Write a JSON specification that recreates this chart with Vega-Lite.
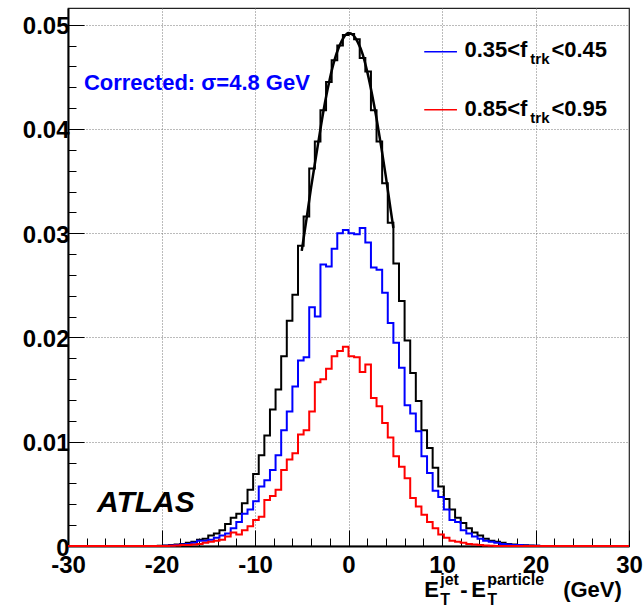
{
  "$schema": "https://vega.github.io/schema/vega-lite/v6.json",
  "width": 561,
  "height": 538,
  "autosize": "none",
  "padding": {"left": 68, "top": 8, "right": 14, "bottom": 61},
  "background": "white",
  "config": {"view": {"stroke": "#222222", "strokeWidth": 1.2}, "font": "Liberation Sans"},
  "datasets": {
    "hist": [
      {"x": -30, "black": 0, "blue": 0, "red": 0},
      {"x": -29.4, "black": 0, "blue": 0, "red": 0},
      {"x": -28.8, "black": 0, "blue": 0, "red": 0},
      {"x": -28.2, "black": 0, "blue": 0, "red": 0},
      {"x": -27.6, "black": 0, "blue": 0, "red": 0},
      {"x": -27, "black": 0, "blue": 0, "red": 0},
      {"x": -26.4, "black": 0, "blue": 0, "red": 0},
      {"x": -25.8, "black": 0, "blue": 0, "red": 0},
      {"x": -25.2, "black": 0, "blue": 0, "red": 0},
      {"x": -24.6, "black": 0, "blue": 0, "red": 0},
      {"x": -24, "black": 0, "blue": 0, "red": 0},
      {"x": -23.4, "black": 0, "blue": 0, "red": 0},
      {"x": -22.8, "black": 0, "blue": 0, "red": 0},
      {"x": -22.2, "black": 0, "blue": 0, "red": 0},
      {"x": -21.6, "black": 0, "blue": 0, "red": 0},
      {"x": -21, "black": 0, "blue": 0, "red": 0},
      {"x": -20.4, "black": 0.00003, "blue": 0, "red": 0},
      {"x": -19.8, "black": 0.00005, "blue": 0.00002, "red": 0},
      {"x": -19.2, "black": 0.0001, "blue": 0.00005, "red": 0.00003},
      {"x": -18.6, "black": 0.00015, "blue": 0.0001, "red": 0.00005},
      {"x": -18, "black": 0.0002, "blue": 0.00015, "red": 0.0001},
      {"x": -17.4, "black": 0.0003, "blue": 0.0002, "red": 0.0001},
      {"x": -16.8, "black": 0.0004, "blue": 0.0003, "red": 0.00015},
      {"x": -16.2, "black": 0.0006, "blue": 0.0005, "red": 0.0002},
      {"x": -15.6, "black": 0.0007, "blue": 0.0005, "red": 0.0003},
      {"x": -15, "black": 0.001, "blue": 0.0006, "red": 0.0004},
      {"x": -14.4, "black": 0.0012, "blue": 0.0008, "red": 0.0005},
      {"x": -13.8, "black": 0.0015, "blue": 0.001, "red": 0.0006},
      {"x": -13.2, "black": 0.0021, "blue": 0.0012, "red": 0.0009},
      {"x": -12.6, "black": 0.0027, "blue": 0.0017, "red": 0.0013},
      {"x": -12, "black": 0.0031, "blue": 0.0023, "red": 0.0011},
      {"x": -11.4, "black": 0.0041, "blue": 0.0031, "red": 0.0015},
      {"x": -10.8, "black": 0.0054, "blue": 0.0035, "red": 0.0019},
      {"x": -10.2, "black": 0.0069, "blue": 0.0043, "red": 0.0025},
      {"x": -9.6, "black": 0.0087, "blue": 0.0057, "red": 0.0028},
      {"x": -9, "black": 0.0106, "blue": 0.0063, "red": 0.0044},
      {"x": -8.4, "black": 0.0131, "blue": 0.0073, "red": 0.0048},
      {"x": -7.8, "black": 0.015, "blue": 0.0087, "red": 0.0054},
      {"x": -7.2, "black": 0.0182, "blue": 0.0111, "red": 0.0073},
      {"x": -6.6, "black": 0.0216, "blue": 0.0129, "red": 0.0083},
      {"x": -6, "black": 0.0241, "blue": 0.0153, "red": 0.0089},
      {"x": -5.4, "black": 0.0288, "blue": 0.0178, "red": 0.0107},
      {"x": -4.8, "black": 0.0316, "blue": 0.0181, "red": 0.0111},
      {"x": -4.2, "black": 0.0362, "blue": 0.0229, "red": 0.0129},
      {"x": -3.6, "black": 0.0388, "blue": 0.022, "red": 0.0157},
      {"x": -3, "black": 0.0418, "blue": 0.027, "red": 0.016},
      {"x": -2.4, "black": 0.0445, "blue": 0.0268, "red": 0.017},
      {"x": -1.8, "black": 0.0466, "blue": 0.0285, "red": 0.0182},
      {"x": -1.2, "black": 0.048, "blue": 0.03, "red": 0.0187},
      {"x": -0.6, "black": 0.049, "blue": 0.0303, "red": 0.0191},
      {"x": 0, "black": 0.0491, "blue": 0.03, "red": 0.0182},
      {"x": 0.6, "black": 0.0486, "blue": 0.0299, "red": 0.0181},
      {"x": 1.2, "black": 0.0468, "blue": 0.0305, "red": 0.0167},
      {"x": 1.8, "black": 0.0455, "blue": 0.0291, "red": 0.0174},
      {"x": 2.4, "black": 0.0418, "blue": 0.0267, "red": 0.0142},
      {"x": 3, "black": 0.0388, "blue": 0.0265, "red": 0.0134},
      {"x": 3.6, "black": 0.0348, "blue": 0.0243, "red": 0.0118},
      {"x": 4.2, "black": 0.031, "blue": 0.0214, "red": 0.0104},
      {"x": 4.8, "black": 0.0271, "blue": 0.0195, "red": 0.0086},
      {"x": 5.4, "black": 0.0235, "blue": 0.0171, "red": 0.0076},
      {"x": 6, "black": 0.0197, "blue": 0.0135, "red": 0.0065},
      {"x": 6.6, "black": 0.0166, "blue": 0.0127, "red": 0.0046},
      {"x": 7.2, "black": 0.0139, "blue": 0.011, "red": 0.0038},
      {"x": 7.8, "black": 0.0111, "blue": 0.0086, "red": 0.003},
      {"x": 8.4, "black": 0.0094, "blue": 0.007, "red": 0.0023},
      {"x": 9, "black": 0.0075, "blue": 0.0053, "red": 0.0017},
      {"x": 9.6, "black": 0.0057, "blue": 0.0047, "red": 0.0011},
      {"x": 10.2, "black": 0.0045, "blue": 0.0035, "red": 0.0008},
      {"x": 10.8, "black": 0.0035, "blue": 0.0025, "red": 0.0005},
      {"x": 11.4, "black": 0.0027, "blue": 0.0023, "red": 0.0004},
      {"x": 12, "black": 0.0022, "blue": 0.0015, "red": 0.0003},
      {"x": 12.6, "black": 0.0017, "blue": 0.0012, "red": 0.0002},
      {"x": 13.2, "black": 0.0013, "blue": 0.0009, "red": 0.00015},
      {"x": 13.8, "black": 0.001, "blue": 0.0007, "red": 0.0001},
      {"x": 14.4, "black": 0.0007, "blue": 0.0005, "red": 0.00005},
      {"x": 15, "black": 0.0005, "blue": 0.0004, "red": 0.00003},
      {"x": 15.6, "black": 0.0004, "blue": 0.0003, "red": 0},
      {"x": 16.2, "black": 0.0003, "blue": 0.0002, "red": 0},
      {"x": 16.8, "black": 0.0002, "blue": 0.00015, "red": 0},
      {"x": 17.4, "black": 0.00015, "blue": 0.0001, "red": 0},
      {"x": 18, "black": 0.0001, "blue": 0.0001, "red": 0},
      {"x": 18.6, "black": 0.00008, "blue": 0.00005, "red": 0},
      {"x": 19.2, "black": 0.00005, "blue": 0.00003, "red": 0},
      {"x": 19.8, "black": 0.00003, "blue": 0.00002, "red": 0},
      {"x": 20.4, "black": 0, "blue": 0, "red": 0},
      {"x": 21, "black": 0, "blue": 0, "red": 0},
      {"x": 21.6, "black": 0, "blue": 0, "red": 0},
      {"x": 22.2, "black": 0, "blue": 0, "red": 0},
      {"x": 22.8, "black": 0, "blue": 0, "red": 0},
      {"x": 23.4, "black": 0, "blue": 0, "red": 0},
      {"x": 24, "black": 0, "blue": 0, "red": 0},
      {"x": 24.6, "black": 0, "blue": 0, "red": 0},
      {"x": 25.2, "black": 0, "blue": 0, "red": 0},
      {"x": 25.8, "black": 0, "blue": 0, "red": 0},
      {"x": 26.4, "black": 0, "blue": 0, "red": 0},
      {"x": 27, "black": 0, "blue": 0, "red": 0},
      {"x": 27.6, "black": 0, "blue": 0, "red": 0},
      {"x": 28.2, "black": 0, "blue": 0, "red": 0},
      {"x": 28.8, "black": 0, "blue": 0, "red": 0},
      {"x": 29.4, "black": 0, "blue": 0, "red": 0},
      {"x": 30, "black": 0, "blue": 0, "red": 0}
    ],
    "fit": [
      {"x": -5.0, "y": 0.0283},
      {"x": -4.5, "y": 0.0313},
      {"x": -4.0, "y": 0.0344},
      {"x": -3.5, "y": 0.0372},
      {"x": -3.0, "y": 0.04},
      {"x": -2.5, "y": 0.0426},
      {"x": -2.0, "y": 0.0448},
      {"x": -1.5, "y": 0.0466},
      {"x": -1.0, "y": 0.0479},
      {"x": -0.5, "y": 0.0488},
      {"x": 0.0, "y": 0.0492},
      {"x": 0.5, "y": 0.049},
      {"x": 1.0, "y": 0.0483},
      {"x": 1.5, "y": 0.0472},
      {"x": 2.0, "y": 0.0455},
      {"x": 2.5, "y": 0.0434},
      {"x": 3.0, "y": 0.041},
      {"x": 3.5, "y": 0.0383},
      {"x": 4.0, "y": 0.0354},
      {"x": 4.5, "y": 0.0323},
      {"x": 4.8, "y": 0.0305}
    ],
    "legendLines": [
      {"x": 8.1, "x2": 11.6, "y": 0.04741, "series": "blue"},
      {"x": 8.1, "x2": 11.6, "y": 0.04184, "series": "red"}
    ],
    "bigText": [
      {"x": 12.4, "y": 0.0469, "t": "0.35<f"},
      {"x": 21.7, "y": 0.0469, "t": "<0.45"},
      {"x": 12.4, "y": 0.04127, "t": "0.85<f"},
      {"x": 21.7, "y": 0.04127, "t": "<0.95"}
    ],
    "subText": [
      {"x": 19.45, "y": 0.04626, "t": "trk"},
      {"x": 19.45, "y": 0.04057, "t": "trk"}
    ],
    "titleMain": [
      {"x": 8.1, "y": -0.00489, "t": "E"},
      {"x": 11.95, "y": -0.00489, "t": "-"},
      {"x": 13.12, "y": -0.00489, "t": "E"},
      {"x": 22.96, "y": -0.00489, "t": "(GeV)"}
    ],
    "titleSup": [
      {"x": 9.81, "y": -0.00374, "t": "jet"},
      {"x": 14.83, "y": -0.00374, "t": "particle"},
      {"x": 9.81, "y": -0.00566, "t": "T"},
      {"x": 14.83, "y": -0.00566, "t": "T"}
    ],
    "corr": [{"x": -28.3, "y": 0.0437, "t": "Corrected: σ=4.8 GeV"}],
    "atlas": [{"x": -26.9, "y": 0.0033, "t": "ATLAS"}]
  },
  "encoding": {
    "x": {
      "field": "x", "type": "quantitative",
      "scale": {"domain": [-30, 30], "nice": false, "zero": false},
      "axis": {
        "title": null,
        "values": [-30, -28, -26, -24, -22, -20, -18, -16, -14, -12, -10, -8, -6, -4, -2, 0, 2, 4, 6, 8, 10, 12, 14, 16, 18, 20, 22, 24, 26, 28, 30],
        "labelExpr": "datum.value % 10 === 0 ? (datum.value + '') : ''",
        "labelFont": "Liberation Sans", "labelFontWeight": "bold", "labelFontSize": 24, "labelColor": "#000000",
        "labelPadding": 23, "labelFlush": false, "labelOverlap": false, "labelBaseline": "top",
        "tickSize": {"condition": {"test": "datum.value % 10 === 0", "value": -16}, "value": -8},
        "tickColor": "#000000", "tickWidth": 1,
        "grid": true, "gridDash": [1, 2], "gridWidth": 1,
        "gridColor": {"condition": {"test": "datum.value % 10 === 0 && abs(datum.value) < 25", "value": "#777777"}, "value": "rgba(255,255,255,0)"},
        "domainColor": "#000000", "domainWidth": 2
      }
    },
    "y": {
      "field": "y", "type": "quantitative",
      "scale": {"domain": [0, 0.0516], "nice": false, "zero": true},
      "axis": {
        "title": null,
        "values": [0, 0.002, 0.004, 0.006, 0.008, 0.01, 0.012, 0.014, 0.016, 0.018, 0.02, 0.022, 0.024, 0.026, 0.028, 0.03, 0.032, 0.034, 0.036, 0.038, 0.04, 0.042, 0.044, 0.046, 0.048, 0.05],
        "labelExpr": "datum.value < 0.0001 ? '0' : (abs(datum.value * 100 - round(datum.value * 100)) < 0.01 ? format(datum.value, '.2f') : '')",
        "labelFont": "Liberation Sans", "labelFontWeight": "bold", "labelFontSize": 24, "labelColor": "#000000",
        "labelPadding": 15, "labelOffset": 2, "labelOverlap": false, "labelFlush": false,
        "tickSize": {"condition": {"test": "abs(datum.value * 100 - round(datum.value * 100)) < 0.01", "value": -16}, "value": -8},
        "tickColor": "#000000", "tickWidth": 1,
        "grid": true, "gridDash": [1, 2], "gridWidth": 1,
        "gridColor": {"condition": {"test": "datum.value > 0.0001 && abs(datum.value * 100 - round(datum.value * 100)) < 0.01", "value": "#777777"}, "value": "rgba(255,255,255,0)"},
        "domainColor": "#000000", "domainWidth": 2
      }
    }
  },
  "layer": [
    {
      "data": {"name": "hist"},
      "transform": [{"fold": ["black", "blue", "red"], "as": ["series", "y"]}],
      "mark": {"type": "line", "interpolate": "step-after", "strokeWidth": 2},
      "encoding": {
        "color": {
          "field": "series", "type": "nominal",
          "scale": {"domain": ["black", "blue", "red"], "range": ["#000000", "#0000ff", "#ff0000"]},
          "legend": null
        }
      }
    },
    {
      "data": {"name": "fit"},
      "mark": {"type": "line", "interpolate": "monotone", "strokeWidth": 2.5, "color": "#000000"},
      "encoding": {}
    },
    {
      "data": {"name": "legendLines"},
      "mark": {"type": "rule", "strokeWidth": 1.5},
      "encoding": {
        "x2": {"field": "x2"},
        "color": {"field": "series", "type": "nominal", "legend": null}
      }
    },
    {
      "data": {"name": "bigText"},
      "mark": {"type": "text", "align": "left", "baseline": "alphabetic", "font": "Liberation Sans", "fontWeight": "bold", "fontSize": 22, "color": "#000000"},
      "encoding": {"text": {"field": "t"}}
    },
    {
      "data": {"name": "subText"},
      "mark": {"type": "text", "align": "left", "baseline": "alphabetic", "font": "Liberation Sans", "fontWeight": "bold", "fontSize": 15, "color": "#000000"},
      "encoding": {"text": {"field": "t"}}
    },
    {
      "data": {"name": "titleMain"},
      "mark": {"type": "text", "align": "left", "baseline": "alphabetic", "font": "Liberation Sans", "fontWeight": "bold", "fontSize": 22, "color": "#000000"},
      "encoding": {"text": {"field": "t"}}
    },
    {
      "data": {"name": "titleSup"},
      "mark": {"type": "text", "align": "left", "baseline": "alphabetic", "font": "Liberation Sans", "fontWeight": "bold", "fontSize": 16, "color": "#000000"},
      "encoding": {"text": {"field": "t"}}
    },
    {
      "data": {"name": "corr"},
      "mark": {"type": "text", "align": "left", "baseline": "alphabetic", "font": "Liberation Sans", "fontWeight": "bold", "fontSize": 22, "color": "#0000ff"},
      "encoding": {"text": {"field": "t"}}
    },
    {
      "data": {"name": "atlas"},
      "mark": {"type": "text", "align": "left", "baseline": "alphabetic", "font": "Liberation Sans", "fontWeight": "bold", "fontStyle": "italic", "fontSize": 30, "color": "#000000"},
      "encoding": {"text": {"field": "t"}}
    }
  ]
}
